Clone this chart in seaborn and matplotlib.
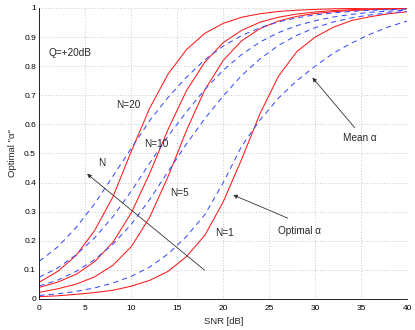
import numpy as np
import pandas as pd
import matplotlib
matplotlib.use("Agg")
import matplotlib.pyplot as plt
import seaborn as sns

# SNR axis (dB)
snr = [0, 2, 4, 6, 8, 10, 12, 14, 16, 18, 20, 22, 24, 26, 28, 30, 32, 34, 36, 38, 40]

# optimal alpha (red, solid)
opt_n20 = [0.058, 0.095, 0.150, 0.235, 0.351, 0.508, 0.656, 0.773, 0.857, 0.913, 0.947,
           0.968, 0.980, 0.988, 0.992, 0.995, 0.997, 0.998, 0.999, 0.999, 1.000]
opt_n10 = [0.040, 0.058, 0.085, 0.128, 0.195, 0.296, 0.432, 0.583, 0.716, 0.814, 0.881,
           0.923, 0.951, 0.968, 0.979, 0.986, 0.991, 0.994, 0.996, 0.997, 0.998]
opt_n5 = [0.023, 0.035, 0.051, 0.076, 0.116, 0.180, 0.281, 0.421, 0.579, 0.719, 0.820,
          0.887, 0.929, 0.955, 0.971, 0.981, 0.987, 0.991, 0.994, 0.996, 0.997]
opt_n1 = [0.008, 0.011, 0.016, 0.022, 0.030, 0.044, 0.064, 0.095, 0.146, 0.219, 0.334,
          0.480, 0.637, 0.765, 0.850, 0.900, 0.934, 0.957, 0.970, 0.980, 0.987]

# mean alpha (blue, dashed)
mean_n20 = [0.130, 0.179, 0.246, 0.327, 0.422, 0.518, 0.613, 0.693, 0.762, 0.822, 0.869,
            0.905, 0.932, 0.952, 0.966, 0.976, 0.983, 0.988, 0.992, 0.994, 0.996]
mean_n10 = [0.075, 0.107, 0.152, 0.210, 0.283, 0.371, 0.467, 0.560, 0.643, 0.720, 0.786,
            0.840, 0.883, 0.915, 0.939, 0.956, 0.969, 0.978, 0.985, 0.989, 0.992]
mean_n5 = [0.045, 0.065, 0.095, 0.135, 0.188, 0.257, 0.342, 0.438, 0.533, 0.620, 0.698,
           0.768, 0.825, 0.871, 0.906, 0.932, 0.952, 0.966, 0.976, 0.983, 0.988]
mean_n1 = [0.012, 0.018, 0.026, 0.038, 0.055, 0.078, 0.110, 0.155, 0.215, 0.290, 0.400,
           0.525, 0.615, 0.690, 0.750, 0.800, 0.845, 0.880, 0.910, 0.935, 0.955]

xticks = [0, 5, 10, 15, 20, 25, 30, 35, 40]
yticks = [0, 0.1, 0.2, 0.3, 0.4, 0.5, 0.6, 0.7, 0.8, 0.9, 1]
ytick_labels = ["0", "0.1", "0.2", "0.3", "0.4", "0.5", "0.6", "0.7", "0.8", "0.9", "1"]

sns.set_style("white")
plt.rcParams["font.family"] = ["Liberation Sans", "DejaVu Sans"]

fig = plt.figure(figsize=(4.15, 3.3), dpi=100)
ax = fig.add_axes([0.095, 0.094, 0.886, 0.882])

red = "#ff1a1a"
blue = "#3a4dff"
for vals in [opt_n20, opt_n10, opt_n5, opt_n1]:
    sns.lineplot(x=snr, y=vals, ax=ax, color=red, linewidth=0.75)
for vals in [mean_n20, mean_n10, mean_n5, mean_n1]:
    sns.lineplot(x=snr, y=vals, ax=ax, color=blue, linewidth=0.75, dashes=False,
                 linestyle=(0, (5, 4)))

ax.set_xlim(0, 40)
ax.set_ylim(0, 1)
ax.set_xticks(xticks)
ax.set_yticks(yticks)
ax.set_yticklabels(ytick_labels)
ax.tick_params(direction="in", length=2.5, width=0.5, labelsize=6, colors="black")
ax.tick_params(axis="x", pad=4)
ax.tick_params(axis="y", pad=2.5)
ax.grid(True, linestyle=(0, (1, 3)), color="#9a9a9a", linewidth=0.5)
for s in ["top", "right"]:
    ax.spines[s].set_visible(False)
for s in ["left", "bottom"]:
    ax.spines[s].set_color("black")
    ax.spines[s].set_linewidth(0.6)

ax.set_xlabel("SNR [dB]", fontsize=6.8, labelpad=4)
ax.set_ylabel("Optimal \"\u03b1\"", fontsize=6.8, labelpad=5)

fs = 7.2
ax.text(1.0, 0.845, "Q=+20dB", fontsize=fs, va="center")
ax.text(8.3, 0.667, "N=20", fontsize=fs, va="center")
ax.text(11.4, 0.532, "N=10", fontsize=fs, va="center")
ax.text(14.2, 0.365, "N=5", fontsize=fs, va="center")
ax.text(19.1, 0.228, "N=1", fontsize=fs, va="center")
ax.text(6.4, 0.466, "N", fontsize=fs, va="center")
ax.text(34.8, 0.553, "Mean \u03b1", fontsize=fs, va="center", ha="center")
ax.text(28.3, 0.234, "Optimal \u03b1", fontsize=fs, va="center", ha="center")

arrow = dict(arrowstyle="-|>", color="#333333", lw=0.6, mutation_scale=6)
ax.annotate("", xy=(4.95, 0.436), xytext=(18.2, 0.093), arrowprops=arrow)
ax.annotate("", xy=(29.5, 0.768), xytext=(34.5, 0.581), arrowprops=arrow)
ax.annotate("", xy=(20.8, 0.361), xytext=(27.3, 0.274), arrowprops=arrow)

fig.savefig("out.png", dpi=100)
